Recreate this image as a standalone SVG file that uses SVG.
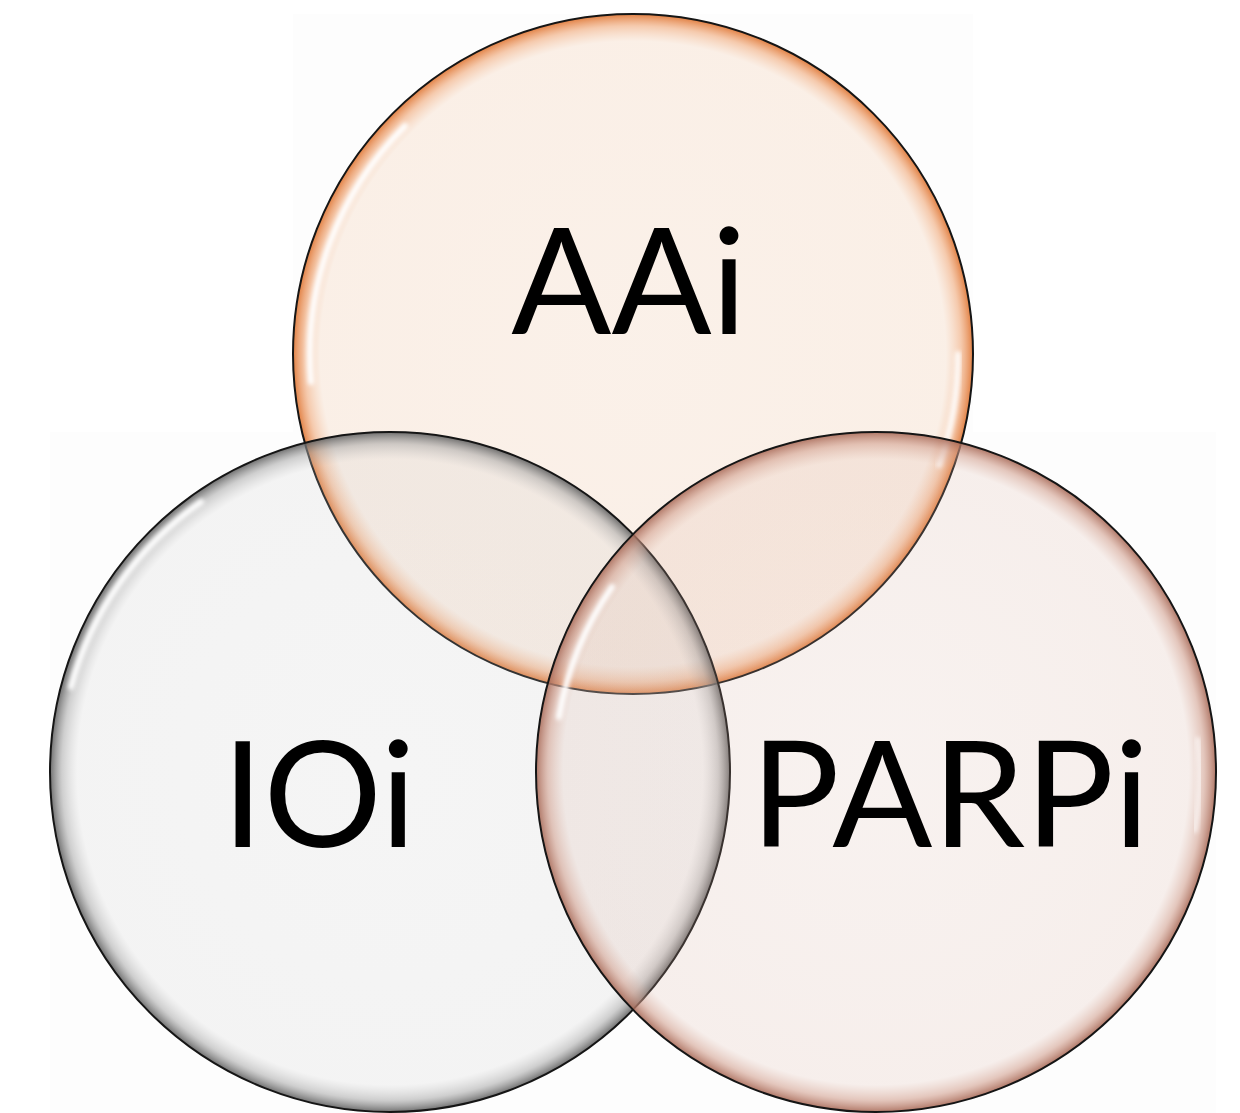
<svg xmlns="http://www.w3.org/2000/svg" width="1240" height="1113" viewBox="0 0 1240 1113">
  <style>
    .lbl { font-family: Lato, "Open Sans", "Liberation Sans", sans-serif; font-size: 148px; fill: #000; text-anchor: middle; }
    .ring { stroke: #151515; stroke-width: 2; }
    .hl { fill: none; stroke: #ffffff; stroke-width: 6; stroke-linecap: round; filter: url(#blur); }
    .bg { fill: #fdfdfd; }
  </style>
  <defs>
    <filter id="blur" x="-20%" y="-20%" width="140%" height="140%">
      <feGaussianBlur stdDeviation="2.2"/>
    </filter>
    <radialGradient id="gTop" cx="0.5" cy="0.5" r="0.5">
      <stop offset="0" stop-color="#f4cfb2" stop-opacity="0.27"/>
      <stop offset="0.92" stop-color="#f4cfb2" stop-opacity="0.3"/>
      <stop offset="0.965" stop-color="#f0a878" stop-opacity="0.6"/>
      <stop offset="1" stop-color="#e07a3a" stop-opacity="0.95"/>
    </radialGradient>
    <radialGradient id="gLeft" cx="0.5" cy="0.5" r="0.5">
      <stop offset="0" stop-color="#c8c8c8" stop-opacity="0.15"/>
      <stop offset="0.92" stop-color="#c8c8c8" stop-opacity="0.18"/>
      <stop offset="0.965" stop-color="#a0a0a0" stop-opacity="0.5"/>
      <stop offset="1" stop-color="#606060" stop-opacity="0.9"/>
    </radialGradient>
    <radialGradient id="gRight" cx="0.5" cy="0.5" r="0.5">
      <stop offset="0" stop-color="#dcb4a5" stop-opacity="0.15"/>
      <stop offset="0.92" stop-color="#dcb4a5" stop-opacity="0.2"/>
      <stop offset="0.965" stop-color="#cf9a88" stop-opacity="0.55"/>
      <stop offset="1" stop-color="#a86a58" stop-opacity="0.9"/>
    </radialGradient>
  </defs>

  <rect width="1240" height="1113" fill="#ffffff"/>
  <rect class="bg" x="293" y="14" width="680" height="680"/>
  <rect class="bg" x="50" y="432" width="1166" height="681"/>

  <g id="node-aai">
    <circle class="ring" cx="633" cy="354" r="340" fill="url(#gTop)"/>
    <path class="hl" d="M 311 382 A 322 322 0 0 1 405 126"/>
    <path class="hl" d="M 958 354 A 325 325 0 0 1 939 465" opacity="0.9"/>
    <text class="lbl" x="629" y="334">AAi</text>
  </g>

  <g id="node-ioi">
    <circle class="ring" cx="390" cy="772" r="340" fill="url(#gLeft)"/>
    <path class="hl" d="M 71 687 A 330 330 0 0 1 201 502"/>
    <text class="lbl" x="319" y="847">IOi</text>
  </g>

  <g id="node-parpi">
    <circle class="ring" cx="876" cy="772" r="340" fill="url(#gRight)"/>
    <path class="hl" d="M 559 717 A 322 322 0 0 1 612 587"/>
    <path class="hl" d="M 1198 740 A 322 322 0 0 1 1195 830" opacity="0.6"/>
    <text class="lbl" x="950" y="847">PARPi</text>
  </g>

  <g id="connectors"/>
</svg>
